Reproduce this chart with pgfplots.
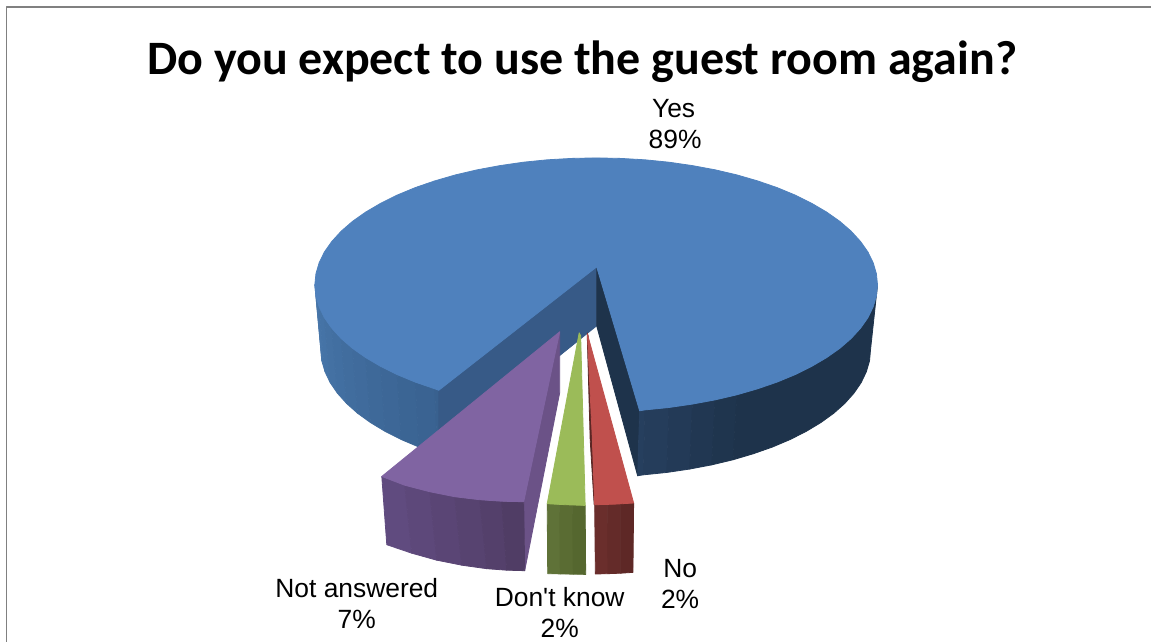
\documentclass[border=0pt]{standalone}
\usepackage{fontspec}
\setmainfont{Liberation Sans}
\newfontfamily\labelfont{Liberation Sans}
\newfontfamily\titlefont{Carlito}
\usepackage{pgfplots}
\pgfplotsset{compat=1.18}

% one filled polygon, in image pixels
\newcommand{\face}[2]{\addplot[fill={#1},draw={#1},line width=0.8pt,forget plot] coordinates {#2} -- cycle;}
\newcommand{\tone}[3]{rgb,255:red,#1;green,#2;blue,#3}

\begin{document}
\begin{tikzpicture}[lab/.style={anchor=base,font=\labelfont\fontsize{26.4}{26.4}\selectfont}]
\begin{axis}[
  width=1152pt, height=642pt, scale only axis,
  xmin=0, xmax=1152, ymin=0, ymax=642, y dir=reverse,
  axis lines=none, clip=false,
  every axis plot/.append style={line join=round},
]
% keeps the page as large as the slide
\addplot[draw=none,forget plot] coordinates {(0,0) (1152,0) (1152,642) (0,642)};
% frame of the slide
\addplot[color={rgb,255:red,128;green,128;blue,128},line width=1.3pt,forget plot] coordinates {(6.5,642) (6.5,7) (1152,7)};

% Yes: outer wall on the left
\face{\tone{72}{119}{171}}{(315,285)(316.1,296.1)(322,361.1)(321,350)}
\face{\tone{71}{117}{168}}{(316.1,296.1)(319.3,307)(325.2,372)(322,361.1)}
\face{\tone{69}{115}{166}}{(319.3,307)(324.6,317.9)(330.4,382.9)(325.2,372)}
\face{\tone{68}{113}{163}}{(324.6,317.9)(332,328.4)(337.6,393.4)(330.4,382.9)}
\face{\tone{66}{111}{161}}{(332,328.4)(341.4,338.7)(346.8,403.7)(337.6,393.4)}
\face{\tone{65}{109}{158}}{(341.4,338.7)(352.7,348.5)(357.8,413.5)(346.8,403.7)}
\face{\tone{64}{107}{156}}{(352.7,348.5)(365.9,357.8)(370.7,422.8)(357.8,413.5)}
\face{\tone{62}{105}{153}}{(365.9,357.8)(380.9,366.6)(385.3,431.6)(370.7,422.8)}
\face{\tone{61}{103}{151}}{(380.9,366.6)(397.4,374.8)(401.5,439.8)(385.3,431.6)}
\face{\tone{59}{101}{148}}{(397.4,374.8)(415.5,382.3)(419.2,447.3)(401.5,439.8)}
\face{\tone{58}{99}{146}}{(415.5,382.3)(435,389)(437.6,454)(419.2,447.3)}
\face{\tone{57}{97}{143}}{(435,389)(439,390.5)(440.5,455)(437.6,454)}
% Yes: cut walls
\face{\tone{55}{90}{135}}{(597,267)(439,390.5)(439,453)(597,326)}
\face{\tone{30}{51}{75}}{(597,267)(640,411)(638,476)(597,326)}
% Yes: outer wall on the right
\face{\tone{38}{63}{94}}{(640,411)(645.4,410.1)(643.7,475.1)(638,476)}
\face{\tone{37}{61}{91}}{(645.4,410.1)(669.4,407.7)(667.2,472.7)(643.7,475.1)}
\face{\tone{35}{58}{87}}{(669.4,407.7)(692.8,404.3)(690.1,469.3)(667.2,472.7)}
\face{\tone{33}{55}{82}}{(692.8,404.3)(715.5,400.1)(712.2,465.1)(690.1,469.3)}
\face{\tone{31}{53}{78}}{(715.5,400.1)(737.3,395)(733.5,460)(712.2,465.1)}
\face{\tone{30}{51}{75}}{(737.3,395)(758,389)(777.5,382.3)(795.6,374.8)(812.1,366.6)(827.1,357.8)(840.3,348.5)(851.6,338.7)(861,328.4)(868.4,317.9)(873.7,307)(876.9,296.1)(878,285)(871,350)(870,361.1)(866.8,372)(861.6,382.9)(854.4,393.4)(845.2,403.7)(834.2,413.5)(821.3,422.8)(806.7,431.6)(790.5,439.8)(772.8,447.3)(753.7,454)(733.5,460)}
% Yes: top
\face{\tone{79}{129}{189}}{(597,267)(640,411)(645.4,410.1)(669.4,407.7)(692.8,404.3)(715.5,400.1)(737.3,395)(758,389)(777.5,382.3)(795.6,374.8)(812.1,366.6)(827.1,357.8)(840.3,348.5)(851.6,338.7)(861,328.4)(868.4,317.9)(873.7,307)(876.9,296.1)(878,285)
(876.9,273.9)(873.7,263)(868.4,252.1)(861,241.6)(851.6,231.3)(840.3,221.5)(827.1,212.2)(812.1,203.4)(795.6,195.2)(777.5,187.7)(758,181)(737.3,175)(715.5,169.9)(692.8,165.7)(669.4,162.3)(645.4,159.9)(621,158.5)(596.5,158)
(572,158.5)(547.6,159.9)(523.6,162.3)(500.2,165.7)(477.5,169.9)(455.7,175)(435,181)(415.5,187.7)(397.4,195.2)(380.9,203.4)(365.9,212.2)(352.7,221.5)(341.4,231.3)(332,241.6)(324.6,252.1)(319.3,263)(316.1,273.9)(315,285)
(316.1,296.1)(319.3,307)(324.6,317.9)(332,328.4)(341.4,338.7)(352.7,348.5)(365.9,357.8)(380.9,366.6)(397.4,374.8)(415.5,382.3)(435,389)(439,390.5)}

% Not answered
\face{\tone{107}{82}{135}}{(560,332)(524,502)(525,571)(560,393)}
\face{\tone{96}{75}{127}}{(382,476.7)(405,485.5)(412,553.5)(387,545)}
\face{\tone{93}{72}{122}}{(405,485.5)(430,492)(437,560.5)(412,553.5)}
\face{\tone{90}{69}{117}}{(430,492)(455,497)(462,565.5)(437,560.5)}
\face{\tone{87}{67}{112}}{(455,497)(480,500)(487,569)(462,565.5)}
\face{\tone{84}{64}{107}}{(480,500)(502,501.5)(507,570.5)(487,569)}
\face{\tone{80}{61}{101}}{(502,501.5)(524,502)(525,571)(507,570.5)}
\face{\tone{128}{100}{162}}{(560,332)(382,476.7)(405,485.5)(430,492)(455,497)(480,500)(502,501.5)(524,502)}

% Don't know
\face{\tone{95}{114}{56}}{(547.5,504)(560,504.7)(560.5,574.2)(548,574)}
\face{\tone{90}{108}{51}}{(560,504.7)(573,505.2)(573.5,574.5)(560.5,574.2)}
\face{\tone{85}{103}{47}}{(573,505.2)(585.5,505.7)(586,574.7)(573.5,574.5)}
\face{\tone{155}{187}{89}}{(579.5,333)(547.5,504)(566,505)(585.5,505.7)(581,336)}

% No
\face{\tone{90}{38}{36}}{(587.5,333)(590.5,440)(594.5,505)(595,505)(592.7,440)(588.5,336)}
\face{\tone{106}{46}{44}}{(595,505)(608,504.5)(608.3,574)(595.7,574.3)}
\face{\tone{100}{43}{41}}{(608,504.5)(621,504)(621,573.5)(608.3,574)}
\face{\tone{94}{40}{38}}{(621,504)(634,503.3)(633.3,572.7)(621,573.5)}
\face{\tone{192}{80}{77}}{(587.7,334)(592.7,440)(595,505)(614,504.5)(634,503.3)}

% labels
\node[anchor=base,font=\titlefont\bfseries\fontsize{48}{48}\selectfont] at (axis cs:582.5,75) {Do you expect to use the guest room again?};
\node[lab] at (axis cs:674,118) {Yes};
\node[lab] at (axis cs:675.5,149) {89\%};
\node[lab] at (axis cs:357,598) {Not answered};
\node[lab] at (axis cs:357,628.5) {7\%};
\node[lab] at (axis cs:560,606.5) {Don't know};
\node[lab] at (axis cs:560,638) {2\%};
\node[lab] at (axis cs:680.5,578) {No};
\node[lab] at (axis cs:680.5,609) {2\%};
\end{axis}
\end{tikzpicture}
\end{document}
